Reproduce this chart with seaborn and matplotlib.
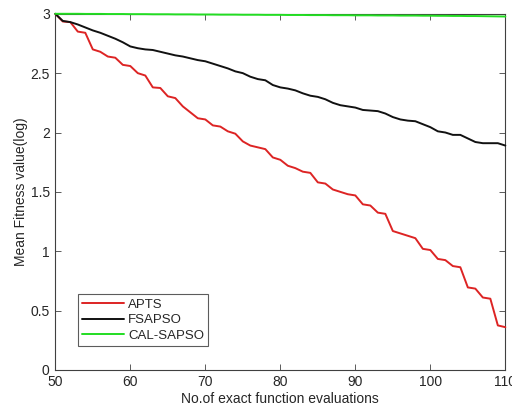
import numpy as np
import pandas as pd
import seaborn as sns
import matplotlib
matplotlib.use("Agg")
import matplotlib.pyplot as plt

evals = list(range(50, 111))

apts = [3.00, 2.935, 2.93, 2.85, 2.84, 2.70, 2.68, 2.64, 2.63, 2.57,
        2.56, 2.50, 2.48, 2.38, 2.375, 2.305, 2.29, 2.22, 2.17, 2.12,
        2.11, 2.06, 2.05, 2.01, 1.99, 1.925, 1.89, 1.875, 1.86, 1.79,
        1.77, 1.72, 1.70, 1.67, 1.66, 1.58, 1.57, 1.52, 1.50, 1.48,
        1.47, 1.395, 1.385, 1.325, 1.315, 1.17, 1.15, 1.13, 1.11, 1.02,
        1.01, 0.935, 0.925, 0.875, 0.865, 0.695, 0.685, 0.61, 0.60, 0.375,
        0.36]

fsapso = [3.00, 2.94, 2.93, 2.91, 2.885, 2.86, 2.84, 2.815, 2.79, 2.76,
          2.725, 2.71, 2.70, 2.695, 2.68, 2.665, 2.65, 2.64, 2.625, 2.61,
          2.60, 2.58, 2.56, 2.54, 2.515, 2.50, 2.47, 2.45, 2.44, 2.40,
          2.38, 2.37, 2.355, 2.33, 2.31, 2.30, 2.28, 2.25, 2.23, 2.22,
          2.21, 2.19, 2.185, 2.18, 2.16, 2.13, 2.11, 2.10, 2.095, 2.07,
          2.045, 2.01, 2.00, 1.98, 1.98, 1.95, 1.92, 1.91, 1.91, 1.91,
          1.89]

cal_sapso = [3.00, 3.00, 3.00, 3.00, 2.999, 2.999, 2.999, 2.998, 2.998, 2.998,
             2.997, 2.997, 2.997, 2.996, 2.996, 2.996, 2.995, 2.995, 2.995, 2.994,
             2.994, 2.994, 2.993, 2.993, 2.993, 2.992, 2.992, 2.992, 2.991, 2.991,
             2.991, 2.990, 2.990, 2.990, 2.989, 2.989, 2.989, 2.988, 2.988, 2.988,
             2.987, 2.987, 2.987, 2.986, 2.986, 2.986, 2.985, 2.985, 2.985, 2.984,
             2.984, 2.983, 2.983, 2.982, 2.982, 2.981, 2.981, 2.980, 2.979, 2.978,
             2.977]

df = pd.DataFrame({"evals": evals * 3,
                   "value": apts + fsapso + cal_sapso,
                   "method": ["APTS"] * 61 + ["FSAPSO"] * 61 + ["CAL-SAPSO"] * 61})

sns.set_theme(style="white")
plt.rcParams['font.family'] = ['Liberation Sans', 'DejaVu Sans']
plt.rcParams['text.color'] = '#262626'
plt.rcParams['axes.labelcolor'] = '#262626'

fig = plt.figure(figsize=(5.12, 4.18), dpi=100)
ax = fig.add_axes([0.108, 0.115, 0.879, 0.852])

palette = {"APTS": "#dd2424", "FSAPSO": "#111111", "CAL-SAPSO": "#22dd22"}
sns.lineplot(data=df, x="evals", y="value", hue="method", palette=palette,
             linewidth=1.4, ax=ax)
# lines drawn above the frame so the green one shows along the top edge
for ln in ax.get_lines():
    ln.set_clip_on(False)
    ln.set_zorder(3)

ax.set_xlim(50, 110)
ax.set_ylim(0, 3)
ax.set_xticks(range(50, 111, 10))
ax.set_yticks([0, 0.5, 1, 1.5, 2, 2.5, 3])
ax.set_yticklabels(["0", "0.5", "1", "1.5", "2", "2.5", "3"])
ax.tick_params(direction="in", length=4, width=0.6, bottom=True, left=True,
               top=True, right=True, labelsize=10, colors='#404040',
               labelcolor='#262626', pad=4)
for s in ax.spines.values():
    s.set_color('#404040')
    s.set_linewidth(0.8)

ax.set_xlabel("No.of exact function evaluations", fontsize=10, labelpad=2)
ax.set_ylabel("Mean Fitness value(log)", fontsize=10, labelpad=2)

leg = ax.legend(loc="lower left", bbox_to_anchor=(0.05, 0.068), fontsize=9.5,
                frameon=True, fancybox=False, handlelength=3.2,
                borderpad=0.3, labelspacing=0.25, handletextpad=0.3,
                borderaxespad=0)
leg.get_frame().set_edgecolor('#333333')
leg.get_frame().set_linewidth(0.8)
leg.set_zorder(5)

plt.savefig("out.png", dpi=100, facecolor='w')
